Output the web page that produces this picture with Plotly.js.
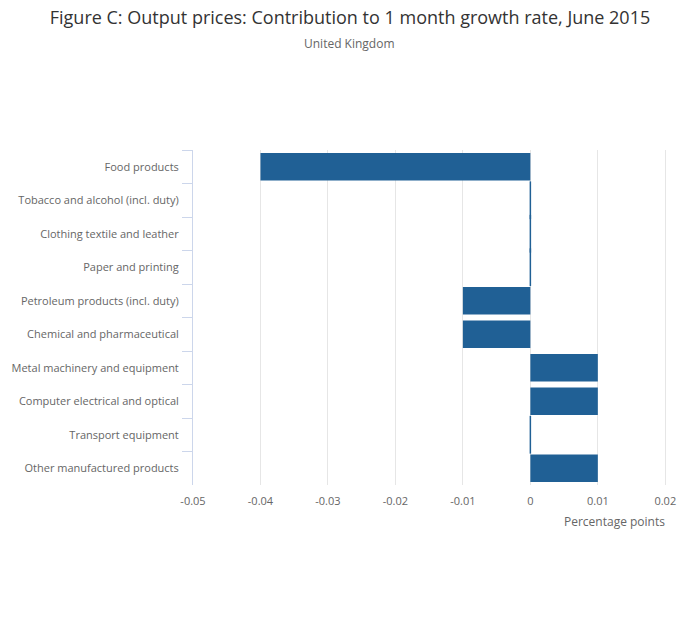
<!DOCTYPE html>
<html>
<head>
<meta charset="utf-8">
<script src="https://cdn.plot.ly/plotly-3.0.1.min.js"></script>
<style>html,body{margin:0;padding:0;background:#fff;}#chart{width:700px;height:635px;}</style>
</head>
<body>
<div id="chart"></div>
<script>
const categories = [
  "Food products",
  "Tobacco and alcohol (incl. duty)",
  "Clothing textile and leather",
  "Paper and printing",
  "Petroleum products (incl. duty)",
  "Chemical and pharmaceutical",
  "Metal machinery and equipment",
  "Computer electrical and optical",
  "Transport equipment",
  "Other manufactured products"
];
const values = [-0.04, 0, 0, 0, -0.01, -0.01, 0.01, 0.01, 0, 0.01];
const xTickVals = [-0.05, -0.04, -0.03, -0.02, -0.01, 0, 0.01, 0.02];
const xTickText = ["-0.05", "-0.04", "-0.03", "-0.02", "-0.01", "0", "0.01", "0.02"];

const BLUE = "#206095";
const FONT = "Open Sans, Noto Sans, sans-serif";

const zeroCats = categories.filter((c, i) => values[i] === 0);
const zeroVals = values.filter(v => v === 0);

const traces = [
  {
    type: "bar",
    orientation: "h",
    x: values,
    y: categories,
    marker: { color: BLUE, line: { width: 0 } },
    hoverinfo: "x+y",
    showlegend: false
  },
  {
    type: "scatter",
    mode: "markers",
    x: zeroVals,
    y: zeroCats,
    marker: { symbol: "line-ns-open", size: 27, color: BLUE, line: { color: BLUE, width: 1.5 } },
    hoverinfo: "skip",
    showlegend: false
  }
];

const layout = {
  width: 700,
  height: 635,
  paper_bgcolor: "#fff",
  plot_bgcolor: "#fff",
  font: { family: FONT, color: "#666", size: 11 },
  margin: { l: 193, r: 32, t: 150, b: 150 },
  title: {
    text: "Figure C: Output prices: Contribution to 1 month growth rate, June 2015",
    font: { family: FONT, size: 18, color: "#333" },
    x: 0.5, xanchor: "center", xref: "container",
    y: 0.972, yanchor: "middle", yref: "container"
  },
  bargap: 0.18,
  xaxis: {
    range: [-0.05, 0.0204],
    tickvals: xTickVals,
    ticktext: xTickText,
    showgrid: true,
    gridcolor: "#e6e6e6",
    gridwidth: 1,
    zeroline: false,
    showline: false,
    ticks: "",
    ticklabelstandoff: 8,
    tickfont: { family: FONT, size: 11, color: "#666" },
    fixedrange: true
  },
  yaxis: {
    type: "category",
    autorange: "reversed",
    showline: true,
    linecolor: "#ccd6eb",
    linewidth: 1,
    ticks: "outside",
    tickson: "boundaries",
    ticklen: 10,
    tickcolor: "#ccd6eb",
    tickwidth: 1,
    showgrid: false,
    zeroline: false,
    ticklabelstandoff: 11,
    tickfont: { family: FONT, size: 11, color: "#666" },
    fixedrange: true
  },
  annotations: [
    {
      text: "United Kingdom",
      xref: "paper", yref: "paper",
      x: 0.329, y: 1.319, xanchor: "center", yanchor: "middle",
      showarrow: false,
      font: { family: FONT, size: 12, color: "#666" }
    },
    {
      text: "Percentage points",
      xref: "x", yref: "paper",
      x: 0.02, y: -0.11, xanchor: "right", yanchor: "middle",
      xshift: 2,
      showarrow: false,
      font: { family: FONT, size: 12, color: "#666" }
    }
  ]
};

Plotly.newPlot("chart", traces, layout, { displayModeBar: false, staticPlot: true });
</script>
</body>
</html>
